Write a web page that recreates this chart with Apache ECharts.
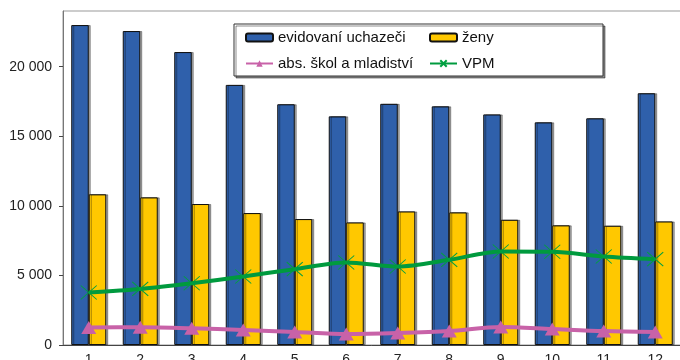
<!DOCTYPE html>
<html>
<head>
<meta charset="utf-8">
<script src="https://cdn.jsdelivr.net/npm/echarts@6/dist/echarts.min.js"></script>
<style>
  html, body { margin: 0; padding: 0; background: #fff; }
  #chart { width: 680px; height: 360px; }
</style>
</head>
<body>
<div id="chart"></div>
<script>
var months = ['1', '2', '3', '4', '5', '6', '7', '8', '9', '10', '11', '12'];
var evidovani = [22990, 22560, 21050, 18690, 17300, 16430, 17330, 17150, 16570, 16000, 16290, 18090];
var zeny = [10830, 10610, 10130, 9480, 9050, 8810, 9600, 9530, 9000, 8600, 8570, 8880];
var absolventi = [1260, 1270, 1200, 1080, 940, 790, 860, 1000, 1300, 1150, 1000, 940];
var vpm = [3770, 4030, 4440, 4920, 5450, 5930, 5640, 6120, 6720, 6700, 6360, 6170];

var font = '"Liberation Sans", Arial, sans-serif';
var crossSymbol = 'path://M0,0L16,14M16,0L0,14';

function fmt(v) {
  return String(v).replace(/\B(?=(\d{3})+(?!\d))/g, ' ');
}

var myChart = echarts.init(document.getElementById('chart'));
var option = {
  animation: false,
  grid: {
    left: 63, top: 11, right: -1, bottom: 15,
    outerBoundsMode: 'none',
    show: true, borderColor: '#999', borderWidth: 1
  },
  graphic: [{
    type: 'rect',
    z: 1,
    shape: { x: 234, y: 24, width: 369, height: 52 },
    style: {
      fill: '#fff', stroke: '#333', lineWidth: 1,
      shadowColor: 'rgba(0,0,0,0.45)', shadowOffsetX: 2, shadowOffsetY: 2
    }
  }],
  legend: [
    {
      left: 245, top: 30, orient: 'vertical', itemGap: 11, padding: 0,
      itemWidth: 27, itemHeight: 8, z: 5,
      textStyle: { fontFamily: font, fontSize: 15, color: '#111' },
      data: ['evidovaní uchazeči', 'abs. škol a mladiství']
    },
    {
      left: 429, top: 30, orient: 'vertical', itemGap: 11, padding: 0,
      itemWidth: 27, itemHeight: 8, z: 5,
      textStyle: { fontFamily: font, fontSize: 15, color: '#111' },
      data: ['ženy', 'VPM']
    }
  ],
  xAxis: {
    type: 'category',
    data: months,
    axisLine: { lineStyle: { color: '#444' } },
    axisTick: { length: 4, lineStyle: { color: '#444' } },
    axisLabel: { fontFamily: font, fontSize: 14, color: '#222', margin: 8 }
  },
  yAxis: {
    type: 'value',
    min: 0, max: 24000, interval: 5000,
    splitLine: { show: false },
    axisLine: { show: true, lineStyle: { color: '#777' } },
    axisTick: { show: true, length: 4, lineStyle: { color: '#444' } },
    axisLabel: {
      fontFamily: font, fontSize: 14, color: '#222', margin: 11,
      showMaxLabel: false,
      formatter: fmt
    }
  },
  series: [
    {
      name: 'evidovaní uchazeči',
      type: 'bar',
      data: evidovani,
      barGap: '0%',
      barCategoryGap: '32%',
      itemStyle: {
        color: '#2f60ab', borderColor: '#111', borderWidth: 1,
        shadowColor: 'rgba(0,0,0,0.35)', shadowOffsetX: 2, shadowOffsetY: 0
      }
    },
    {
      name: 'ženy',
      type: 'bar',
      data: zeny,
      itemStyle: {
        color: '#ffc800', borderColor: '#111', borderWidth: 1,
        shadowColor: 'rgba(0,0,0,0.35)', shadowOffsetX: 2, shadowOffsetY: 0
      }
    },
    {
      name: 'abs. škol a mladiství',
      type: 'line',
      data: absolventi,
      z: 4,
      smooth: 0.3,
      symbol: 'triangle',
      symbolSize: [15, 13],
      lineStyle: { color: '#c862a8', width: 4 },
      itemStyle: { color: '#c862a8' }
    },
    {
      name: 'VPM',
      type: 'line',
      data: vpm,
      z: 4,
      smooth: 0.3,
      symbol: crossSymbol,
      symbolSize: [16, 14],
      lineStyle: { color: '#009a3e', width: 4 },
      itemStyle: { color: 'transparent', borderColor: '#00a040', borderWidth: 1 }
    }
  ]
};
myChart.setOption(option);
</script>
</body>
</html>
